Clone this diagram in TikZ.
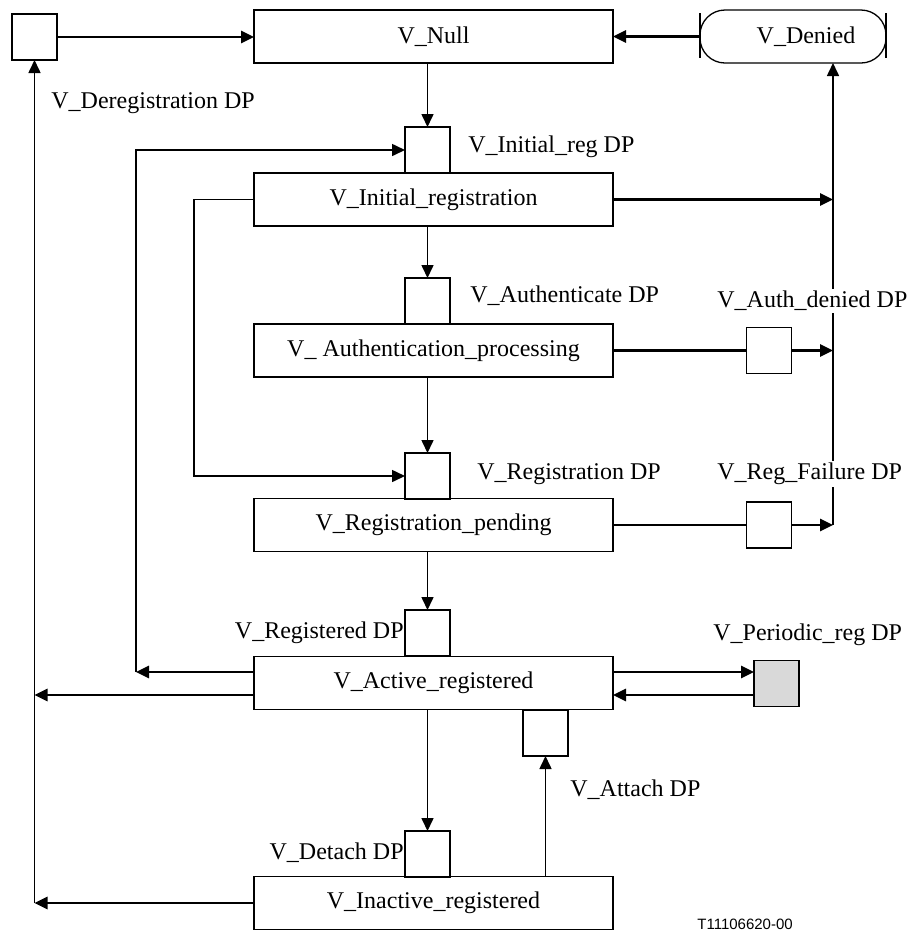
\documentclass[tikz,border=0pt]{standalone}
\usepackage{fontspec}
\setmainfont{Liberation Serif}
\newfontfamily\sansfont{Liberation Sans}
\usetikzlibrary{arrows.meta}

\begin{document}
\begin{tikzpicture}[x=0.5pt,y=-0.5pt,
        font=\fontsize{12}{14}\selectfont,
        stato/.style={draw,line width=0.65pt,minimum width=179.5pt,minimum height=26.5pt,inner sep=0pt,outer sep=0pt},
        dp/.style={draw,line width=0.65pt,minimum width=22.5pt,minimum height=23pt,inner sep=0pt,outer sep=0pt},
        linea/.style={line width=0.8pt},
        grossa/.style={line width=1.3pt},
        freccia/.style={-{Triangle[length=6.5pt,width=6pt]}},
        etich/.style={anchor=west,inner xsep=0pt,inner ysep=1pt}]
        \useasboundingbox (0,0) rectangle (908,933);

        % Stati
        \node[stato] (null) at (433.5,36.5) {V\_Null};
        \node[stato] (initreg) at (433.5,199.5) {V\_Initial\_registration};
        \node[stato] (authproc) at (433.5,350.5) {V\_ Authentication\_processing};
        \node[stato] (regpend) at (433.5,525) {V\_Registration\_pending};
        \node[stato] (active) at (433.5,683) {V\_Active\_registered};
        \node[stato] (inactive) at (433.5,903) {V\_Inactive\_registered};
        \node[stato,minimum width=93pt,rounded corners=12.5pt] (denied) at (793,36.5) {\hspace*{13pt}V\_Denied};
        \draw[line width=0.65pt] ([yshift=-1.5pt]denied.north west) -- ([yshift=2.5pt]denied.south west);
        \draw[line width=0.65pt] ([yshift=-1.5pt]denied.north east) -- ([yshift=2.5pt]denied.south east);

        % Detection points
        \node[dp] (dereg) at (34.5,37) {};
        \node[dp] (initdp) at (427.5,150) {};
        \node[dp] (authdp) at (427.5,301) {};
        \node[dp] (regdp) at (427.5,476) {};
        \node[dp] (registdp) at (427.5,633) {};
        \node[dp] (detachdp) at (427.5,854) {};
        \node[dp] (attachdp) at (545.5,733) {};
        \node[dp] (authden) at (769,350.5) {};
        \node[dp] (regfail) at (769,525) {};
        \node[dp,fill=black!15] (periodic) at (776.5,683.5) {};

        % Punti di giunzione
        \coordinate (jA) at (136,672);
        \coordinate (jB) at (194,476);
        \coordinate (jC) at (833,525);

        % Colonna centrale
        \draw[linea,freccia] (initdp.north |- null.south) -- (initdp.north);
        \draw[linea,freccia] (initdp.south |- initreg.south) -- (authdp.north);
        \draw[linea,freccia] (authdp.south |- authproc.south) -- (regdp.north);
        \draw[linea,freccia] (regdp.south |- regpend.south) -- (registdp.north);
        \draw[linea,freccia] (registdp.south |- active.south) -- (detachdp.north);
        \draw[linea,freccia] (attachdp.south |- inactive.north) -- (attachdp.south);

        % Riga superiore
        \draw[grossa,freccia] (dereg.east) -- (dereg.east -| null.west);
        \draw[grossa,freccia] (denied.west) -- (null.east);

        % Ritorni a sinistra
        \draw[grossa,freccia] ([yshift=5.5pt]active.west) -- (jA);
        \draw[linea,freccia] (jA) |- (initdp.west);
        \draw[linea,freccia] (initreg.west) -| (jB) -- (regdp.west);
        \draw[grossa,freccia] ([yshift=-6pt]active.west) -- ([yshift=-6pt]active.west -| dereg.south);
        \draw[grossa,freccia] (inactive.west) -- (inactive.west -| dereg.south);
        \draw[linea,freccia] (inactive.west -| dereg.south) -- (dereg.south);

        % Verso V_Denied
        \draw[grossa,freccia] (initreg.east) -- (initreg.east -| jC);
        \draw[grossa] (authproc.east) -- (authden.west);
        \draw[grossa,freccia] (authden.east) -- (authden.east -| jC);
        \draw[grossa] (regpend.east) -- (regfail.west);
        \draw[grossa,freccia] (regfail.east) -- (regfail.east -| jC);
        \draw[linea,freccia] (jC) -- (jC |- denied.south);

        % Periodic reg
        \draw[grossa,freccia] ([yshift=5.5pt]active.east) -- ([yshift=5.5pt]active.east -| periodic.west);
        \draw[grossa,freccia] ([yshift=-6pt]active.east -| periodic.west) -- ([yshift=-6pt]active.east);

        % Etichette
        \node[etich] at (51,103) {V\_Deregistration DP};
        \node[etich] at (468,147) {V\_Initial\_reg DP};
        \node[etich] at (470,296) {V\_Authenticate DP};
        \node[etich,fill=white] at (717,301) {V\_Auth\_denied DP};
        \node[etich] at (477,474) {V\_Registration DP};
        \node[etich,fill=white] at (717,474) {V\_Reg\_Failure DP};
        \node[etich,anchor=east] at (404,633) {V\_Registered DP};
        \node[etich] at (713,635) {V\_Periodic\_reg DP};
        \node[etich] at (570,790) {V\_Attach DP};
        \node[etich,anchor=east] at (404,853) {V\_Detach DP};
        \node[anchor=west,inner sep=0pt,font=\sansfont\fontsize{7.5}{9}\selectfont] at (697,924) {T11106620-00};
    \end{tikzpicture}
\end{document}
